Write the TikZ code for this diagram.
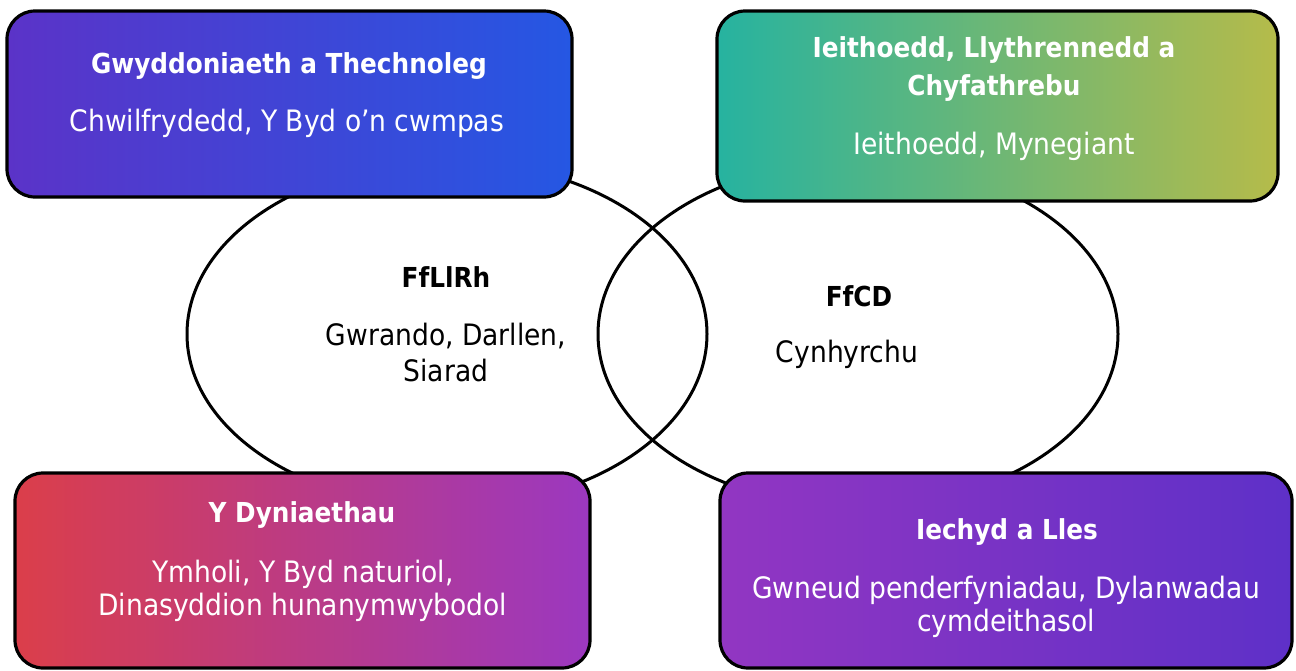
\documentclass[tikz,border=0pt]{standalone}
\usepackage{fontspec}
\setmainfont{DejaVu Sans Condensed}
\usetikzlibrary{shapes.geometric}
\definecolor{tlL}{HTML}{5B33C8}
\definecolor{tlR}{HTML}{2557E3}
\definecolor{trL}{HTML}{26B3A0}
\definecolor{trR}{HTML}{B5BB4A}
\definecolor{blL}{HTML}{DB3E4A}
\definecolor{blR}{HTML}{9B38C0}
\definecolor{brL}{HTML}{9236C2}
\definecolor{brR}{HTML}{5E30C8}
\tikzset{
  ring/.style={draw=black, line width=3pt, ellipse, minimum width=520pt, minimum height=346pt, inner sep=0pt},
  card/.style={draw=black, line width=3.2pt, rounded corners=28pt, inner sep=0pt, outer sep=0pt},
  cardhead/.style={text=white, font=\fontsize{27.5}{38}\selectfont\bfseries, align=center, inner sep=0pt},
  cardbody/.style={text=white, font=\fontsize{29.5}{33.5}\selectfont, align=center, inner sep=0pt},
  midhead/.style={text=black, font=\fontsize{27.5}{32}\selectfont\bfseries, align=center, inner sep=0pt},
  midbody/.style={text=black, font=\fontsize{29.5}{36}\selectfont, align=center, inner sep=0pt}
}
\begin{document}
\begin{tikzpicture}[x=1pt,y=-1pt]
\useasboundingbox (0,0) rectangle (1296,670);
% ellipses
\node[ring] (e1) at (447,334) {};
\node[ring] (e2) at (858,334) {};
% cards
\node[card, left color=tlL, right color=tlR, minimum width=565pt, minimum height=186pt] (tl) at (289.5,104) {};
\node[card, left color=trL, right color=trR, minimum width=561pt, minimum height=190pt] (tr) at (997.5,106) {};
\node[card, left color=blL, right color=blR, minimum width=575pt, minimum height=195pt] (bl) at (302.5,570.5) {};
\node[card, left color=brL, right color=brR, minimum width=572pt, minimum height=195pt] (br) at (1006,570.5) {};
% card texts
\node[cardhead] (tlh) at (289,66) {Gwyddoniaeth a Thechnoleg};
\node[cardbody] (tlb) at (287,123) {Chwilfrydedd, Y Byd o’n cwmpas};
\node[cardhead] (trh) at (994,69) {Ieithoedd, Llythrennedd a\\Chyfathrebu};
\node[cardbody] (trb) at (994,146) {Ieithoedd, Mynegiant};
\node[cardhead] (blh) at (302,515) {Y Dyniaethau};
\node[cardbody] (blb) at (303,591) {Ymholi, Y Byd naturiol,\\Dinasyddion hunanymwybodol};
\node[cardhead] (brh) at (1007,532) {Iechyd a Lles};
\node[cardbody] (brb) at (1006,607) {Gwneud penderfyniadau, Dylanwadau\\cymdeithasol};
% middle texts
\node[midhead] (lh) at (446,277) {FfLlRh};
\node[midbody] (lb) at (446,352) {Gwrando, Darllen,\\Siarad};
\node[midhead] (rh) at (859,296) {FfCD};
\node[midbody] (rb) at (847,354) {Cynhyrchu};
\end{tikzpicture}
\end{document}
